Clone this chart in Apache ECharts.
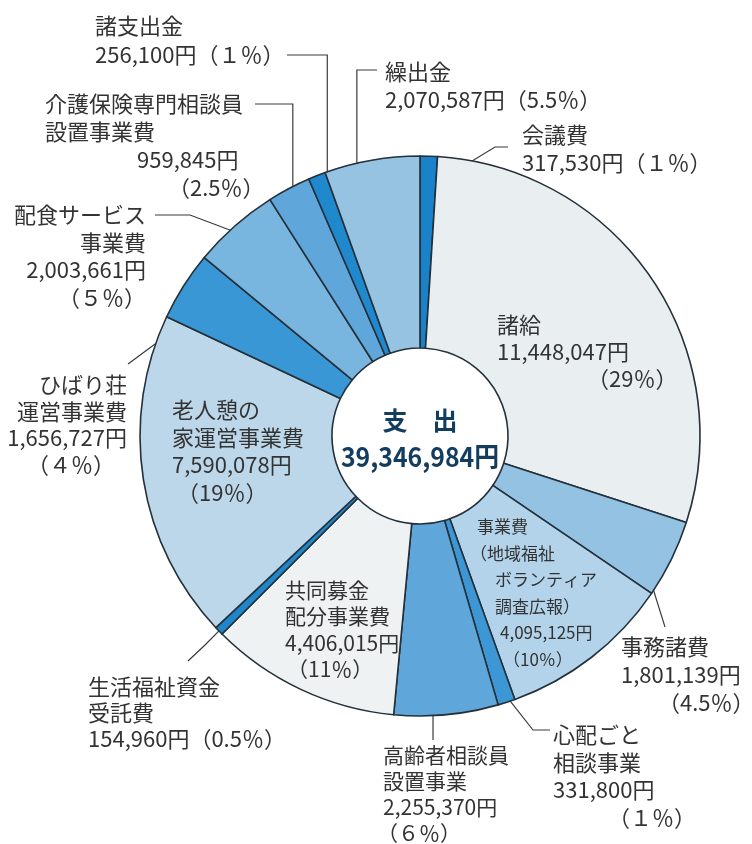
<!DOCTYPE html>
<html lang="ja">
<head>
<meta charset="utf-8">
<title>支出</title>
<script src="https://cdn.jsdelivr.net/npm/echarts@6.0.0/dist/echarts.min.js"></script>
<style>
  html, body { margin: 0; padding: 0; background: #fff; }
  #chart { width: 752px; height: 844px; }
</style>
</head>
<body>
<div id="chart"></div>
<script>
// 支出の内訳（12時の位置から時計回り）
const NAMES = [
  '会議費',
  '諸給',
  '事務諸費',
  '事業費\n（地域福祉\nボランティア\n調査広報）',
  '心配ごと\n相談事業',
  '高齢者相談員\n設置事業',
  '共同募金\n配分事業費',
  '生活福祉資金\n受託費',
  '老人憩の\n家運営事業費',
  'ひばり荘\n運営事業費',
  '配食サービス\n事業費',
  '介護保険専門相談員\n設置事業費',
  '諸支出金',
  '繰出金'
];
// 金額（円）
const AMOUNTS = [
  317530, 11448047, 1801139, 4095125, 331800, 2255370, 4406015,
  154960, 7590078, 1656727, 2003661, 959845, 256100, 2070587
];
// 図に記された構成比（％）。扇の角度はこの値で描かれている
const SHARES = [1, 29, 4.5, 10, 1, 6, 11, 0.5, 19, 4, 5, 2.5, 1, 5.5];
const CENTER_TITLE = '支　出';

const COLORS = [
  '#1a82c8', '#e9eff1', '#93c2e3', '#b2d3ea', '#3d97d5', '#5fa6da', '#eef2f2',
  '#1e86cb', '#bcd7ea', '#3997d5', '#78b5df', '#5fa7db', '#2088cc', '#97c3e3'
];

// pie geometry (px)
const CX = 420, CY = 436, R0 = 88, R = 280;
const TEXT = '#333333';
const FONT = '"Noto Sans CJK JP", "Noto Sans", sans-serif';

// label blocks: x, y = centre of first line, line height, font size,
// indents per line; oneLine = amount and share on the same line
const LABEL_POS = [
  { x: 522, y: 135, align: 'left', lh: 28, fs: 22, oneLine: true },
  { x: 497, y: 325, align: 'left', lh: 27, fs: 22, ind: [0, 0, 90] },
  { x: 621, y: 647, align: 'left', lh: 28, fs: 22, ind: [0, 0, 37] },
  { x: 470, y: 527, align: 'left', lh: 26.5, fs: 17, ind: [7, 0, 25, 25, 30, 33] },
  { x: 553, y: 735, align: 'left', lh: 27.5, fs: 22, ind: [0, 0, 0, 55] },
  { x: 377, y: 755, align: 'left', lh: 26, fs: 21, ind: [6, 6, 6, 0] },
  { x: 285, y: 590, align: 'left', lh: 26.5, fs: 21, ind: [0, 0, 0, 2] },
  { x: 88, y: 687, align: 'left', lh: 26, fs: 22, oneLine: true },
  { x: 172, y: 410, align: 'left', lh: 27.5, fs: 22, ind: [0, 0, 0, 5] },
  { x: 127, y: 385, align: 'right', lh: 26.5, fs: 22, ind: [0, 0, 0, 12] },
  { x: 146, y: 215, align: 'right', lh: 27.5, fs: 22 },
  { x: 45, y: 104, align: 'left', lh: 28, fs: 22, ind: [0, 0, 92, 123] },
  { x: 95, y: 26, align: 'left', lh: 29, fs: 22, oneLine: true },
  { x: 385, y: 72, align: 'left', lh: 28, fs: 22, oneLine: true }
];

// leader lines: start inside the slice (t = share of the arc, rf = share of radius),
// then either through fixed bends or straight up to vy and across to hx
const LEADERS = [
  { t: 0.5, rf: 0.886, via: [[495, 147], [508, 147]] },
  null,
  { t: 0.52, rf: 0.875, via: [[665, 627]] },
  null,
  { t: 0.45, rf: 0.97, via: [[533, 730], [550, 730]] },
  { t: 0.56, rf: 0.65, vy: 740 },
  null,
  { t: 0.5, rf: 0.99, via: [[205, 645], [188, 661]] },
  null,
  { t: 0.51, rf: 0.88, via: [[170, 333], [128, 364]] },
  { t: 0.63, rf: 0.89, via: [[190, 215], [155, 215]] },
  { t: 0.19, rf: 0.89, vy: 104, hx: 255 },
  { t: 0.36, rf: 0.88, vy: 55, hx: 287 },
  { t: 0.25, rf: 0.88, vy: 70, hx: 377 }
];

const shareSum = SHARES.reduce((a, b) => a + b, 0);
const starts = [];
SHARES.reduce((acc, v) => { starts.push(acc); return acc + v; }, 0);

const polar = (i, t, rf) => {
  const a = (starts[i] + SHARES[i] * t) / shareSum * 2 * Math.PI;
  const r = R * rf;
  return [CX + r * Math.sin(a), CY - r * Math.cos(a)];
};

const leaderPoints = (i) => {
  const l = LEADERS[i];
  if (!l) return null;
  const p0 = polar(i, l.t, l.rf);
  if (l.vy != null) {
    const pts = [p0, [p0[0], l.vy]];
    if (l.hx != null) pts.push([l.hx, l.vy]);
    return pts;
  }
  return [p0].concat(l.via);
};

const fmtShare = (v) => (Number.isInteger(v) && v < 10)
  ? String.fromCharCode(0xFF10 + v) : String(v);

const labelLines = (i) => {
  const yen = AMOUNTS[i].toLocaleString('en-US') + '円';
  const pct = '（' + fmtShare(SHARES[i]) + '％）';
  const lines = NAMES[i].split('\n');
  return LABEL_POS[i].oneLine ? lines.concat(yen + pct) : lines.concat(yen, pct);
};

const richFor = (i) => {
  const pos = LABEL_POS[i];
  const rich = { t: { fontSize: pos.fs, lineHeight: pos.lh, color: TEXT, fontFamily: FONT } };
  (pos.ind || []).forEach(n => {
    if (n) rich['g' + n] = { width: n, fontSize: pos.fs, lineHeight: pos.lh };
  });
  return rich;
};

const total = AMOUNTS.reduce((a, b) => a + b, 0);

const chart = echarts.init(document.getElementById('chart'));

chart.setOption({
  animation: false,
  graphic: [
    {
      type: 'text', x: CX, y: 420, z: 10,
      style: {
        text: CENTER_TITLE, fill: '#133d5e',
        font: 'bold 25px ' + FONT,
        align: 'center', verticalAlign: 'middle',
        textAlign: 'center', textVerticalAlign: 'middle'
      }
    },
    {
      type: 'text', x: CX, y: 457, scaleX: 0.92, z: 10,
      style: {
        text: total.toLocaleString('en-US') + '円', fill: '#133d5e',
        font: 'bold 27px ' + FONT,
        align: 'center', verticalAlign: 'middle',
        textAlign: 'center', textVerticalAlign: 'middle'
      }
    }
  ],
  series: [
    {
      type: 'pie',
      center: [CX, CY],
      radius: [R0, R],
      startAngle: 90,
      clockwise: true,
      avoidLabelOverlap: false,
      emphasis: { disabled: true },
      itemStyle: { borderColor: '#24303a', borderWidth: 1.6 },
      label: {
        show: true,
        position: 'outside',
        formatter: (p) => {
          const pos = LABEL_POS[p.dataIndex];
          return labelLines(p.dataIndex).map((s, k) => {
            const n = (pos.ind && pos.ind[k]) || 0;
            const pad = n ? `{g${n}|\u00a0}` : '';
            return pos.align === 'right' ? `{t|${s}}${pad}` : `${pad}{t|${s}}`;
          }).join('\n');
        }
      },
      labelLine: {
        show: true,
        lineStyle: { color: '#3a3a3a', width: 1.2 }
      },
      labelLayout: (p) => {
        const pos = LABEL_POS[p.dataIndex];
        const out = { x: pos.x, y: pos.y - pos.lh / 2, align: pos.align, verticalAlign: 'top' };
        const pts = leaderPoints(p.dataIndex);
        if (pts) out.labelLinePoints = pts;
        return out;
      },
      data: NAMES.map((name, i) => ({
        name: name,
        value: SHARES[i],
        itemStyle: { color: COLORS[i] },
        label: { rich: richFor(i) },
        labelLine: { show: !!LEADERS[i] }
      }))
    }
  ]
});
</script>
</body>
</html>
